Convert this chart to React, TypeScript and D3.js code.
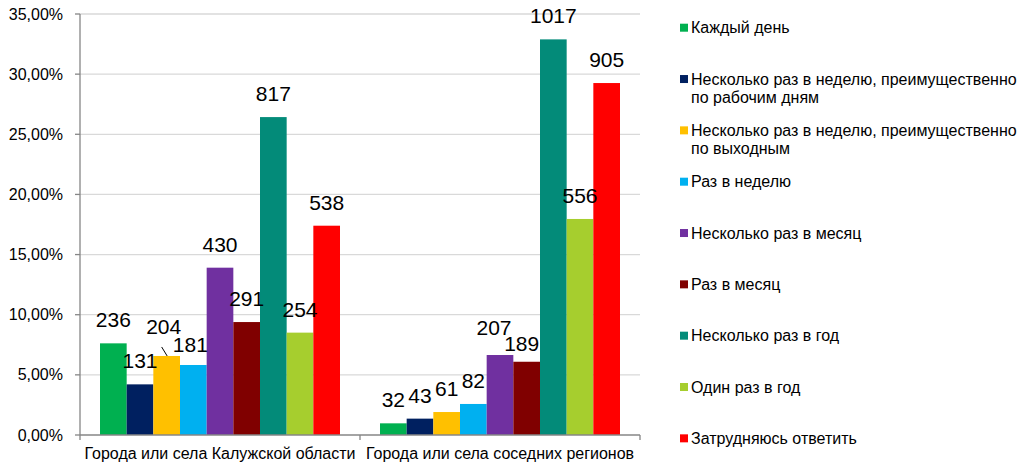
import React from 'react'
import * as d3 from 'd3'

// categories (x axis groups)
const categories = ['Города или села Калужской области', 'Города или села соседних регионов']

// series names (legend), each can have two lines
const seriesNames = [
  ['Каждый день'],
  ['Несколько раз в неделю, преимущественно', 'по рабочим дням'],
  ['Несколько раз в неделю, преимущественно', 'по выходным'],
  ['Раз в неделю'],
  ['Несколько раз в месяц'],
  ['Раз в месяц'],
  ['Несколько раз в год'],
  ['Один раз в год'],
  ['Затрудняюсь ответить'],
]

const seriesColors = ['#00b050', '#002060', '#ffc000', '#00b0f0', '#7030a0', '#800000', '#038b79', '#a6ce2e', '#ff0000']

// share of answers per series, by group
const kalugaShare = [0.0762, 0.0421, 0.0657, 0.0582, 0.1391, 0.0939, 0.2643, 0.0851, 0.174]
const neighbourShare = [0.0097, 0.0136, 0.0191, 0.0258, 0.0665, 0.0609, 0.3289, 0.1796, 0.2926]

// counts shown as data labels
const kalugaCount = [236, 131, 204, 181, 430, 291, 817, 254, 538]
const neighbourCount = [32, 43, 61, 82, 207, 189, 1017, 556, 905]

const yTicks = [0, 0.05, 0.1, 0.15, 0.2, 0.25, 0.3, 0.35]

const W = 1019
const H = 463
const margin = { left: 80, right: 379, top: 14, bottom: 28 }

const FONT = '"Liberation Sans", Arial, sans-serif'

// hand nudges for a few overlapping labels, like in the source sheet
const labelNudge: Record<string, [number, number]> = {
  '0-2': [-3, -6],
  '0-3': [-3, 3],
  '1-4': [-6, -4],
  '1-5': [-5, 5],
}

export default function App() {
  const shares = [kalugaShare, neighbourShare]
  const counts = [kalugaCount, neighbourCount]

  const x0 = d3.scaleBand<string>()
    .domain(categories)
    .range([margin.left, W - margin.right])
    .padding(0)
  const x1 = d3.scaleBand<number>()
    .domain(d3.range(seriesNames.length))
    .range([0, x0.bandwidth()])
    .paddingInner(0)
    .paddingOuter(0.75)
  const y = d3.scaleLinear().domain([0, 0.35]).range([H - margin.bottom, margin.top])

  const fmt = (v: number) => (v * 100).toFixed(2).replace('.', ',') + '%'
  const x0End = W - margin.right
  const base = y(0)

  return (
    <div style={{ position: 'fixed', left: 0, top: 0 }}>
      <svg width={W} height={H} style={{ display: 'block', background: '#fff' }} fontFamily={FONT}>
        {/* gridlines */}
        {yTicks.slice(1).map(t => (
          <line key={'g' + t} x1={margin.left} x2={x0End} y1={y(t)} y2={y(t)} stroke="#d9d9d9" strokeWidth={1.3} />
        ))}
        {/* y axis */}
        <line x1={margin.left} x2={margin.left} y1={y(0.35)} y2={base} stroke="#868686" strokeWidth={1.3} />
        {yTicks.map(t => (
          <g key={'t' + t}>
            <line x1={margin.left - 5} x2={margin.left} y1={y(t)} y2={y(t)} stroke="#868686" strokeWidth={1.3} />
            <text x={margin.left - 17} y={y(t)} dy="0.35em" textAnchor="end" fontSize={16} fill="#000">{fmt(t)}</text>
          </g>
        ))}
        {/* bars */}
        {categories.map((c, gi) => (
          <g key={c} transform={`translate(${x0(c)},0)`}>
            {shares[gi].map((v, si) => (
              <rect key={si} x={x1(si)} y={y(v)} width={x1.bandwidth()} height={base - y(v)} fill={seriesColors[si]} />
            ))}
          </g>
        ))}
        {/* x axis */}
        <line x1={margin.left} x2={x0End} y1={base} y2={base} stroke="#868686" strokeWidth={1.3} />
        {[margin.left, ...categories.map(c => (x0(c) as number) + x0.bandwidth())].map(px => (
          <line key={'xt' + px} x1={px} x2={px} y1={base} y2={base + 5} stroke="#868686" strokeWidth={1.3} />
        ))}
        {categories.map(c => (
          <text key={'xl' + c} x={(x0(c) as number) + x0.bandwidth() / 2} y={base + 24} textAnchor="middle" fontSize={16} fill="#000">{c}</text>
        ))}
        {/* data labels */}
        {categories.map((c, gi) => (
          <g key={'dl' + c}>
            {counts[gi].map((n, si) => {
              const nudge = labelNudge[`${gi}-${si}`] || [0, 0]
              const cx = (x0(c) as number) + (x1(si) as number) + x1.bandwidth() / 2
              const ty = y(shares[gi][si])
              return (
                <g key={si}>
                  <text x={cx + nudge[0]} y={ty - 16 + nudge[1]} textAnchor="middle" fontSize={21} fill="#000">{n}</text>
                  {gi === 0 && si === 2 && (
                    <line x1={cx - 5} y1={ty - 9} x2={cx + 0.5} y2={ty} stroke="#000" strokeWidth={1} />
                  )}
                </g>
              )
            })}
          </g>
        ))}
        {/* legend */}
        {seriesNames.map((lines, i) => {
          const ly = 27.7 + i * 51.33
          return (
            <g key={'lg' + i}>
              <rect x={680} y={ly - 4} width={8} height={8} fill={seriesColors[i]} />
              {lines.map((ln, li) => (
                <text key={li} x={691} y={ly + li * 18} dy="0.35em" fontSize={16} fill="#000">{ln}</text>
              ))}
            </g>
          )
        })}
      </svg>
    </div>
  )
}
